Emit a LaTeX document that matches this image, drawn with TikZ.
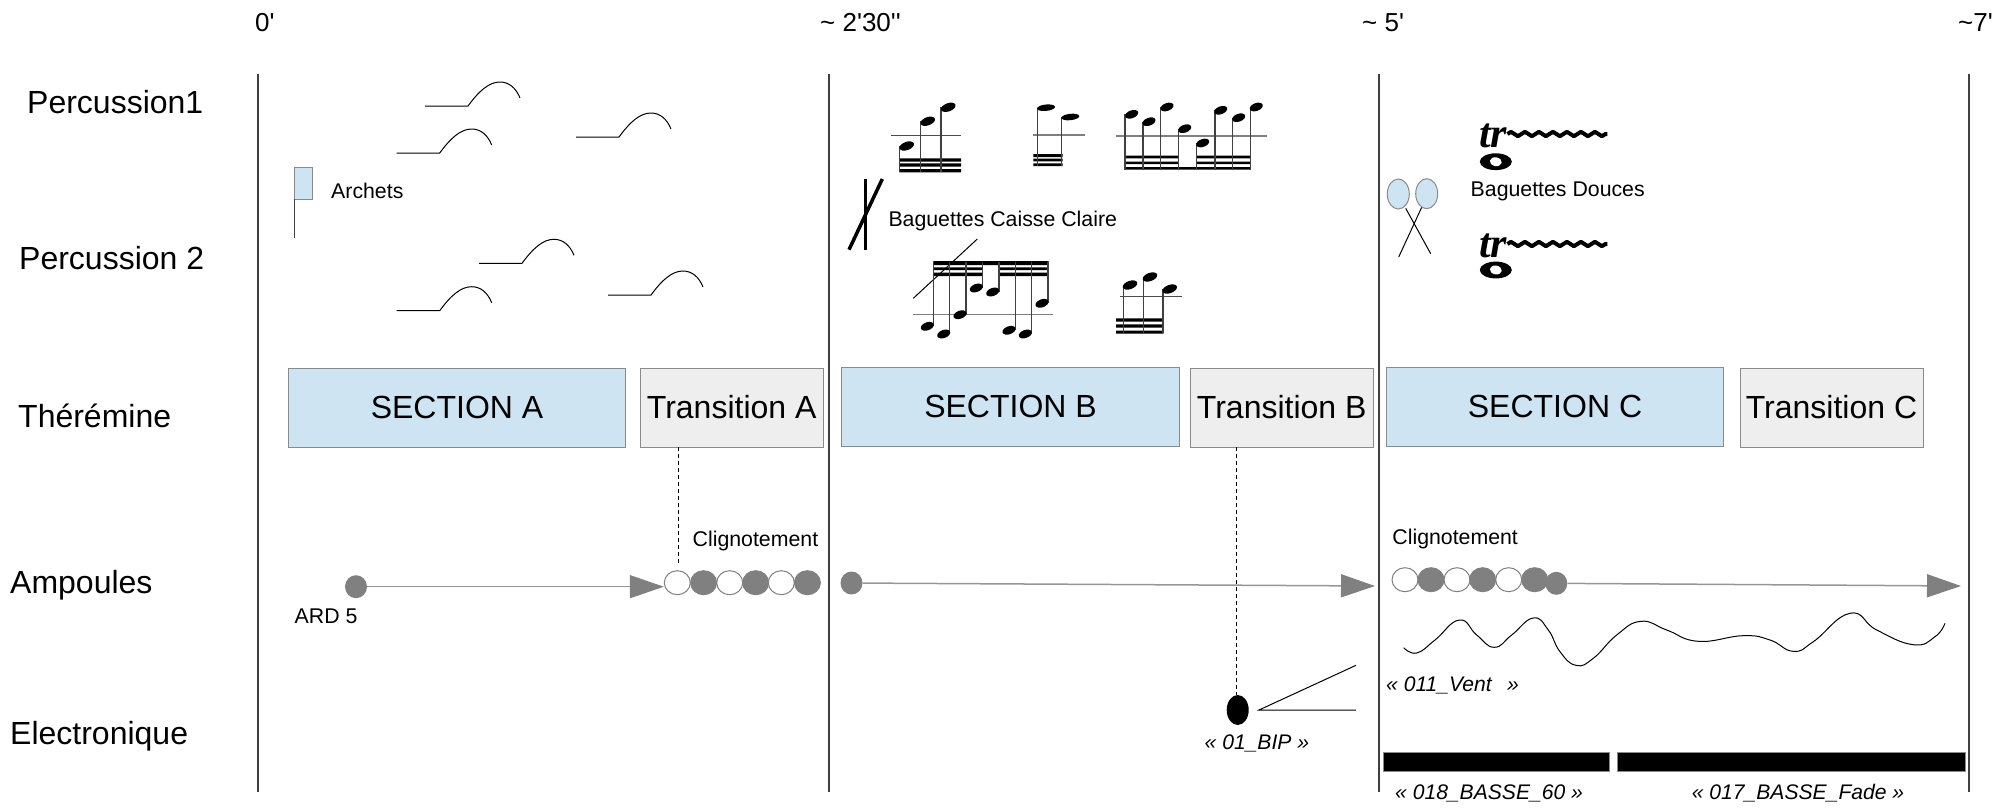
\documentclass[tikz,border=0pt]{standalone}
\usepackage{fontspec}
\setmainfont{Liberation Sans}
\newfontfamily\trfont{Liberation Serif}
\usetikzlibrary{arrows.meta,shapes.geometric,decorations.pathmorphing}
\definecolor{boxblue}{HTML}{CFE4F3}
\definecolor{boxgray}{HTML}{EEEEEE}
\definecolor{edgegray}{HTML}{8A8A8A}
\definecolor{bulbgray}{HTML}{808080}
\definecolor{rule}{HTML}{404040}
\tikzset{
  x=1pt,y=-1pt,
  timelabel/.style={anchor=west,inner sep=0pt,font=\fontsize{26}{30}\selectfont},
  rowlabel/.style={anchor=west,inner sep=0pt,font=\fontsize{32}{36}\selectfont},
  small/.style={anchor=west,inner sep=0pt,font=\fontsize{21.3}{25}\selectfont},
  smallit/.style={anchor=west,inner sep=0pt,font=\fontsize{21.1}{25}\selectfont\itshape},
  secbox/.style={rectangle,draw=edgegray,line width=1pt,minimum height=79pt,inner sep=0pt,font=\fontsize{32}{36}\selectfont},
  seca/.style={secbox,fill=boxblue,minimum width=337.5pt},
  trans/.style={secbox,fill=boxgray,minimum width=183pt},
  vrule/.style={draw=rule,line width=1.5pt},
  bow/.style={draw=black,line width=1pt},
  staff/.style={draw=gray,line width=1.2pt},
  stem/.style={draw=black!75,line width=1.3pt},
  beam/.style={fill=black},
  onbulb/.style={ellipse,draw=bulbgray,fill=white,line width=1pt,minimum width=26pt,minimum height=24pt,inner sep=0pt},
  offbulb/.style={ellipse,draw=bulbgray,fill=bulbgray,line width=1pt,minimum width=26pt,minimum height=24pt,inner sep=0pt},
  dot/.style={ellipse,fill=bulbgray,minimum width=22pt,minimum height=23pt,inner sep=0pt},
  arr/.style={draw=edgegray!90,line width=1.5pt,-{Triangle[length=34pt,width=23pt,color=bulbgray]}},
  dashline/.style={draw=black,line width=1pt,dash pattern=on 4pt off 3pt},
  bar/.style={fill=black,draw=edgegray,line width=1pt},
  trill/.style={draw=black,line width=4pt,line join=round,decorate,decoration={zigzag,amplitude=2.2pt,segment length=14pt}},
}
\newcommand{\bowmark}[2]{\draw[bow,shift={(#1,#2)}] (0,0) -- (43,0) .. controls (54,-15) and (64,-24) .. (75,-24) .. controls (84,-24) and (91,-18) .. (95,-8);}
\newcommand{\nh}[2]{\fill[shift={(#1,#2)},rotate=20] (0,0) ellipse (7.6pt and 4.1pt);}
\newcommand{\nhflat}[2]{\fill[shift={(#1,#2)},rotate=6] (0,0) ellipse (9pt and 3.2pt);}
\newcommand{\wholenote}[2]{\fill[shift={(#1,#2)}] (0,0) ellipse (16pt and 8.4pt);\fill[white,shift={(#1,#2)},rotate=-10] (0,0) ellipse (6pt and 4.4pt);}
\newcommand{\trillmark}[3]{\node[anchor=west,inner sep=0pt,font=\trfont\bfseries\itshape\fontsize{42}{44}\selectfont] (#3) at (#1,#2) {tr};\draw[trill] (#3.east |- 0,#2) ++(0,-2) -- ++(100,0);}
\begin{document}
\begin{tikzpicture}
\useasboundingbox (0,0) rectangle (1995,807);
% time labels
\node[timelabel] (t0) at (255,23) {0\textquotesingle};
\node[timelabel] (t1) at (820,23) {\char`\~{} 2\textquotesingle 30\textquotesingle\textquotesingle};
\node[timelabel] (t2) at (1362,23) {\char`\~{} 5\textquotesingle};
\node[timelabel] (t3) at (1958,23) {\char`\~{}7\textquotesingle};
% row labels
\node[rowlabel] (r1) at (27,102) {Percussion1};
\node[rowlabel] (r2) at (19,258) {Percussion 2};
\node[rowlabel] (r3) at (18,416) {Thérémine};
\node[rowlabel] (r4) at (10,585) {Ampoules};
\node[rowlabel] (r5) at (10,736.5) {Electronique};
% vertical rules
\coordinate (v1t) at (258,74); \coordinate (v1b) at (258,792);
\coordinate (v2t) at (829,74); \coordinate (v2b) at (829,792);
\coordinate (v3t) at (1379,74); \coordinate (v3b) at (1379,792);
\coordinate (v4t) at (1969,74); \coordinate (v4b) at (1969,792);
\draw[vrule] (v1t) -- (v1b);
\draw[vrule] (v2t) -- (v2b);
\draw[vrule] (v3t) -- (v3b);
\draw[vrule] (v4t) -- (v4b);
% section boxes
\node[seca] (secA) at (457,407.5) {SECTION A};
\node[trans] (transA) at (731.7,407.5) {Transition A};
\node[seca] (secB) at (1010.5,406.5) {SECTION B};
\node[trans] (transB) at (1281.7,407.5) {Transition B};
\node[seca] (secC) at (1555,406.5) {SECTION C};
\node[trans] (transC) at (1831.5,407.5) {Transition C};
% bow marks
\bowmark{425}{106}
\bowmark{396.7}{153}
\bowmark{576}{137}
\bowmark{479}{263.3}
\bowmark{396.7}{310.7}
\bowmark{608}{295}
% bow flag
\draw[edgegray,fill=boxblue,line width=1pt] (294.3,167.3) rectangle (312.3,199.3);
\draw[rule,line width=1pt] (294.3,199.3) -- (294.3,238.3);
\node[small] (archets) at (331,190.5) {Archets};
% group 1
\draw[draw=black!70,line width=1pt] (891,135.3) -- (961,135.3);
\fill[beam] (899.3,158.3) rectangle (961,161.7) (899.3,163.3) rectangle (961,166.7) (899.3,169) rectangle (961,172.3);
\draw[stem] (899.3,146) -- (899.3,172) (920.7,121.3) -- (920.7,172) (941,107.3) -- (941,172);
\nh{906.7}{146}\nh{927.7}{121.3}\nh{948.3}{107.3}
% group 2
\draw[staff] (1033.3,135) -- (1085,135);
\fill[beam] (1033.3,154) rectangle (1062.5,157) (1033.3,158.7) rectangle (1062.5,161.3) (1033.3,163.3) rectangle (1062.5,166);
\draw[stem] (1037.3,107.7) -- (1037.3,166) (1061.7,117) -- (1061.7,166);
\nhflat{1046}{107.7}\nhflat{1070.3}{117}
% group 3
\draw[staff] (1116,136) -- (1266.7,136);
\fill[beam] (1125,167) rectangle (1250.8,169.7)
 (1125,155.7) rectangle (1178.7,158.3) (1125,161.7) rectangle (1178.7,164)
 (1196.7,155.7) rectangle (1250.8,158.3) (1196.7,161.7) rectangle (1250.8,164);
\foreach \sx/\hx/\hy in {1125/1131.7/114.3,1143/1149/121.7,1160.7/1167/107,1178.7/1184.7/128.7,1196.7/1202.7/143,1215/1220.7/110.3,1232.7/1238.7/117.7,1250.3/1256.3/107}{
  \draw[stem] (\sx,\hy) -- (\sx,169.7);
  \fill[shift={(\hx,\hy)},rotate=20] (0,0) ellipse (6.8pt and 3.9pt);
}
% sticks
\draw[black,line width=3.5pt] (865.7,179) -- (865.7,249.7);
\draw[black,line width=3.5pt] (882.3,179) -- (849,249.7);
\node[small] (bcc) at (888.3,221) {Baguettes Caisse Claire};
% group 4
\draw[staff] (913.3,314.7) -- (1052.7,314.7);
\draw[black,line width=1pt] (913.3,298.3) -- (977.3,239);
\fill[beam] (933.3,261) rectangle (1048.5,265)
 (933.3,267.3) rectangle (982.3,270) (933.3,272.7) rectangle (982.3,276)
 (999,267.3) rectangle (1048.5,270) (999,272.7) rectangle (1048.5,276);
\foreach \sx/\hx/\hy in {933.3/927.3/326.3,949.7/943.7/334,966/960/314.7,982.3/976.3/288,999/992.7/292,1015.3/1009/330.3,1031.7/1025.3/334,1048/1042/303.3}{
  \draw[stem] (\sx,\hy) -- (\sx,262);
  \fill[shift={(\hx,\hy)},rotate=20] (0,0) ellipse (6.8pt and 4pt);
}
% group 5
\draw[draw=black!70,line width=1pt] (1120,296.3) -- (1181.7,296.3);
\fill[beam] (1116,318.3) rectangle (1163.5,321.7) (1116,324.3) rectangle (1163.5,327.7) (1116,330.7) rectangle (1163.5,333.7);
\draw[stem] (1123.3,285) -- (1123.3,333) (1143.3,277) -- (1143.3,333) (1163,289) -- (1163,333);
\nh{1130}{285}\nh{1150}{277}\nh{1169.7}{289}
% trills
\trillmark{1479}{136}{tr1}
\wholenote{1495.8}{161.7}
\node[small] (bd) at (1470.5,191.5) {Baguettes Douces};
\trillmark{1479}{246}{tr2}
\wholenote{1495.8}{270}
% soft mallets
\draw[black,line width=1pt] (1405.7,208.3) -- (1430.7,253.7);
\draw[black,line width=1pt] (1421.7,207.3) -- (1398.7,257);
\draw[edgegray,fill=boxblue,line width=1pt] (1398.3,194) ellipse (11pt and 15pt);
\draw[edgegray,fill=boxblue,line width=1pt] (1426.7,193.7) ellipse (11pt and 15pt);
% ampoules A
\node[dot] (dotA) at (356,586.7) {};
\node[small] (ard) at (294.5,616) {ARD 5};
\node[small] (cligA) at (692.5,541) {Clignotement};
\node[onbulb] (a1) at (677.3,582.7) {};
\node[offbulb] (a2) at (703.6,582.7) {};
\node[onbulb] (a3) at (729.7,582.7) {};
\node[offbulb] (a4) at (755.7,582.7) {};
\node[onbulb] (a5) at (781.3,582.7) {};
\node[offbulb] (a6) at (807.4,582.7) {};
\draw[arr] (dotA.east) -- (a1.west |- dotA.east);
\coordinate (dashAtop) at (678.8,447);
\coordinate (dashAend) at (678.8,564);
\draw[dashline] (dashAtop) -- (dashAend);
% ampoules B
\node[dot] (dotB) at (851.5,583) {};
\coordinate (tipB) at (1375,586);
\draw[arr] (dotB) -- (tipB);
% electronique
\node[ellipse,fill=black,minimum width=22pt,minimum height=30pt,inner sep=0pt] (bip) at (1237.7,710) {};
\coordinate (dashBtop) at (1236,447);
\draw[dashline] (dashBtop) -- (bip.north -| dashBtop);
\coordinate (hairpin) at (1259,710);
\coordinate (hairA) at (1356,665.3);
\coordinate (hairB) at (1356,710);
\draw[black,line width=1pt] (hairA) -- (hairpin) -- (hairB);
\node[smallit] (lbip) at (1204.5,743) {« 01\_BIP »};
% ampoules C
\node[small] (cligC) at (1392.2,538.5) {Clignotement};
\node[onbulb] (c1) at (1405,579.7) {};
\node[offbulb] (c2) at (1431,579.7) {};
\node[onbulb] (c3) at (1457,579.7) {};
\node[offbulb] (c4) at (1482.7,579.7) {};
\node[onbulb] (c5) at (1508.7,579.7) {};
\node[offbulb] (c6) at (1534.7,579.7) {};
\node[dot] (dotC) at (1556.3,583.3) {};
\coordinate (tipC) at (1961,586);
\draw[arr] (dotC) -- (tipC);
% wind curve
\draw[black,line width=1pt] plot[smooth,tension=0.8] coordinates {(1403.7,647.7)(1416.7,653)(1435,640)(1459.3,620)(1476.7,635)(1494.3,647.3)(1511.7,635)(1533.3,618)(1548.3,630)(1560,651.7)(1576,665.3)(1593.3,658.3)(1616.7,635)(1641,621.3)(1666.7,630)(1698.3,641.3)(1743.3,635.7)(1770,640)(1793.3,651.3)(1813.3,641.7)(1850,613.3)(1876.7,630)(1913.3,644.7)(1935,636.7)(1945,623.3)};
\node[smallit] (lvent) at (1386,685) {« 011\_Vent~~\,»};
% bars
\draw[bar] (1383.3,752.7) rectangle (1609.3,771.3);
\draw[bar] (1617,752.7) rectangle (1965,771.3);
\node[smallit] (l18) at (1395,793) {« 018\_BASSE\_60 »};
\node[smallit] (l17) at (1691.7,793) {« 017\_BASSE\_Fade »};
\end{tikzpicture}
\end{document}
